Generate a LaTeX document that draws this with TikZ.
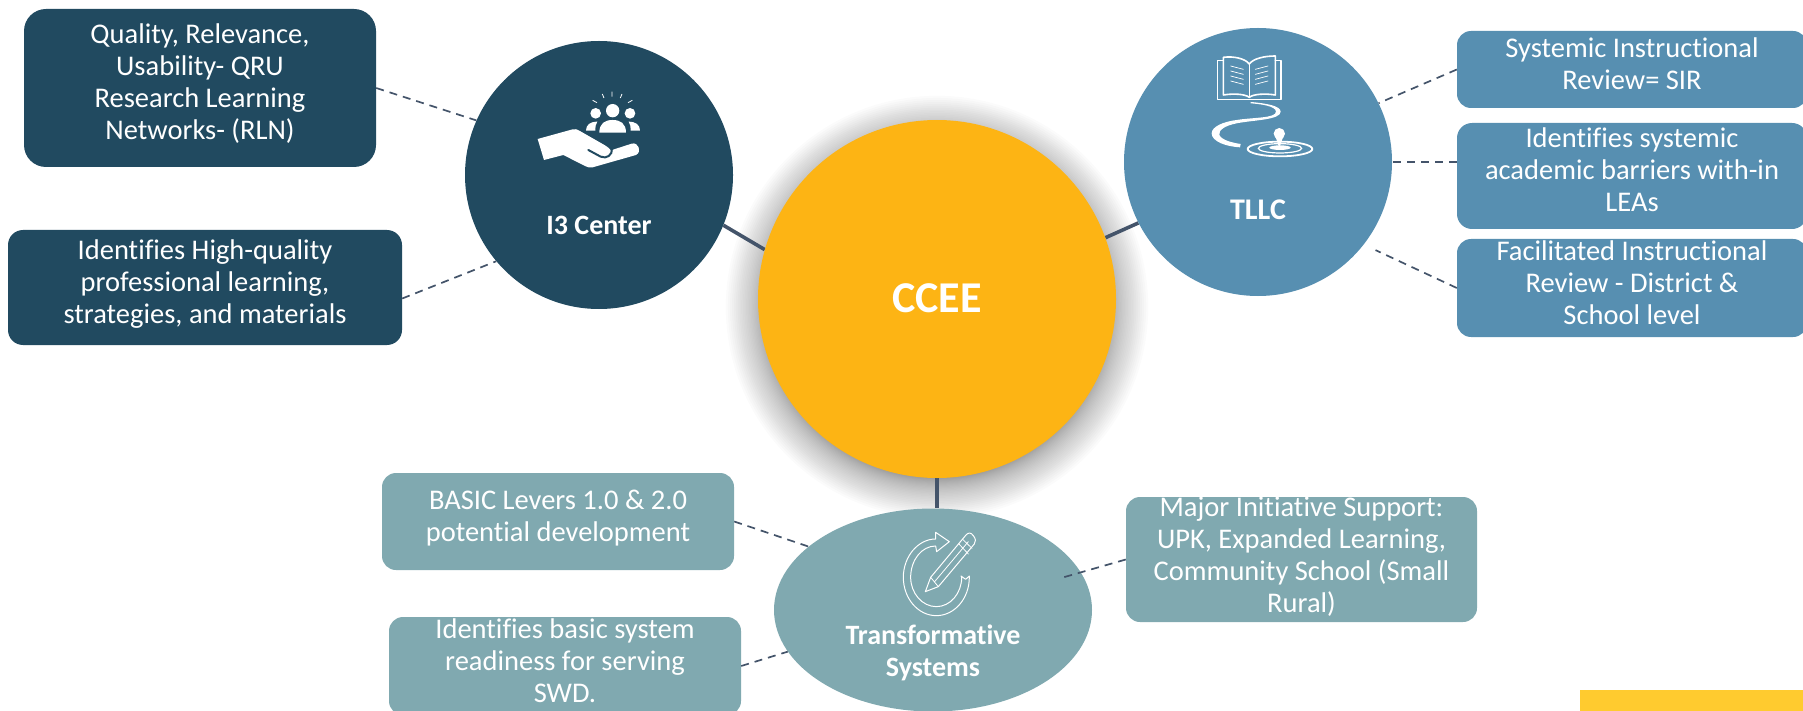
\documentclass[tikz,border=0pt]{standalone}
\usepackage{fontspec}
\setmainfont[Ligatures=NoCommon]{Carlito}
\usetikzlibrary{shapes.geometric,backgrounds,calc}
\definecolor{navy}{HTML}{214A60}
\definecolor{steel}{HTML}{578FB1}
\definecolor{teal}{HTML}{80A9B0}
\definecolor{gold}{HTML}{FDB414}
\definecolor{sun}{HTML}{FFCB2F}
\definecolor{wire}{HTML}{44546A}
\tikzset{
  boxnode/.style={rectangle,draw=none,fill=#1,inner sep=0,text=white},
  lab/.style={text=white,align=center,inner sep=0,font=\fontsize{28.5}{32}\selectfont},
  head/.style={text=white,align=center,inner sep=0,font=\fontsize{28}{32}\selectfont\bfseries},
  solidline/.style={draw=wire,line width=3.6pt},
  dashline/.style={draw=wire,line width=1.7pt,dash pattern=on 8pt off 6pt},
  ico/.style={draw=white,line width=1.2pt,line join=round,line cap=round},
}
\begin{document}
\begin{tikzpicture}[x=1pt,y=-1pt]
\useasboundingbox (0,0) rectangle (1803,711);
% hubs
\node[circle,fill=gold,minimum size=358pt,inner sep=0,text=white,font=\fontsize{44}{48}\selectfont\bfseries] (ccee) at (937,299) {\raisebox{2pt}{CCEE}};
\node[circle,fill=navy,minimum size=268pt,inner sep=0] (i3) at (599,175) {};
\node[circle,fill=steel,minimum size=268pt,inner sep=0] (tllc) at (1258,162) {};
\node[ellipse,fill=teal,minimum width=318pt,minimum height=203pt,inner sep=0] (ts) at (933,610) {};
\node[head] (i3t) at (599,225) {I3 Center};
\node[head,font=\fontsize{30}{36}\selectfont\bfseries] (tllct) at (1258,210) {TLLC};
\node[head] (tst) at (933,653) {Transformative\\Systems};
% boxes
\node[boxnode=navy,rounded corners=22pt,minimum width=352pt,minimum height=158pt,label={[lab,yshift=4pt]center:{Quality, Relevance,\\Usability- QRU\\Research Learning\\Networks- (RLN)}}] (b1) at (200,88) {};
\node[boxnode=navy,rounded corners=15pt,minimum width=394pt,minimum height=115pt,label={[lab,yshift=3pt]center:{Identifies High-quality\\professional learning,\\strategies, and materials}}] (b2) at (205,287.5) {};
\node[boxnode=steel,rounded corners=14pt,minimum width=350pt,minimum height=77pt,label={[lab,yshift=6pt]center:{Systemic Instructional\\Review= SIR}}] (r1) at (1632,69.5) {};
\node[boxnode=steel,rounded corners=15pt,minimum width=350pt,minimum height=106pt,label={[lab,yshift=6pt]center:{Identifies systemic\\academic barriers with-in\\LEAs}}] (r2) at (1632,176) {};
\node[boxnode=steel,rounded corners=14pt,minimum width=350pt,minimum height=98pt,label={[lab,yshift=5pt]center:{Facilitated Instructional\\Review - District \&\\School level}}] (r3) at (1632,288) {};
\node[boxnode=teal,rounded corners=14pt,minimum width=352pt,minimum height=97pt,label={[lab,yshift=3pt]center:{BASIC Levers 1.0 \& 2.0\\potential development}}] (b3) at (558,521.5) {};
\node[boxnode=teal,rounded corners=14pt,minimum width=351pt,minimum height=125pt,label={[lab,yshift=3pt]center:{Major Initiative Support:\\UPK, Expanded Learning,\\Community School (Small\\Rural)}}] (b4) at (1301.5,559.5) {};
\node[boxnode=teal,rounded corners=14pt,minimum width=352pt,minimum height=98pt,label={[lab,yshift=5pt]center:{Identifies basic system\\readiness for serving\\SWD.}}] (b5) at (565,666) {};
\node[rectangle,fill=sun,minimum width=223pt,minimum height=21pt,inner sep=0] (corner) at (1691.5,700.5) {};
% shadow and solid connectors
\begin{scope}[on background layer]
\foreach \i in {1,...,40}{
  \fill[black,opacity=0.016] (937,307) circle[radius=168pt+\i*\i*0.027pt];
}
\draw[solidline] (i3.-22) -- (ccee.164);
\draw[solidline] (tllc.207) -- (ccee.20);
\draw[solidline] (ccee.south) -- (ccee.south |- ts.north);
\end{scope}
% dashed connectors
\coordinate (tsin) at (1061,578);
\draw[dashline] (b1.east) -- (i3.156);
\draw[dashline] ([yshift=-11pt]b2.east) -- (i3.220);
\draw[dashline] (r1.west) -- (tllc.26);
\draw[dashline] ([yshift=14pt]r2.west) -- (tllc.east);
\draw[dashline,shorten >=13pt] (r3.west) -- (tllc.-38);
\draw[dashline] (b3.east) -- (ts.153);
\draw[dashline] (b5.east) -- (ts.196);
\draw[dashline] (b4.west) -- (tsin);
% I3 icon, drawn in the 3x crop's coordinates
\begin{scope}[shift={(440,40)},x=0.3333pt,y=-0.3333pt]
\fill[white] (293,297) -- (398,268) .. controls (405,266) and (412,268) .. (418,272) -- (495,316) .. controls (510,325) and (516,335) .. (510,332) -- (575,311) .. controls (595,305) and (607,335) .. (588,345) -- (458,382) .. controls (450,384) and (442,382) .. (435,378) -- (370,345) -- (312,360) -- cycle;
\draw[navy,line width=2pt,line cap=round] (445,330) -- (482,350) .. controls (500,358) and (518,345) .. (516,325);
\fill[white] (518,212) circle[radius=20];
\fill[white] (467,220) circle[radius=16];
\fill[white] (570,220) circle[radius=16];
\fill[white] (478,278) .. controls (478,250) and (495,240) .. (518,240) .. controls (541,240) and (558,250) .. (558,278) -- cycle;
\fill[white] (438,272) .. controls (438,255) and (450,245) .. (472,245) .. controls (465,252) and (467,262) .. (466,272) -- cycle;
\fill[white] (600,272) .. controls (600,255) and (588,245) .. (566,245) .. controls (573,252) and (571,262) .. (572,272) -- cycle;
\draw[white,line width=0.8pt] (516,155) -- (516,170) (487,162) -- (492,174) (546,162) -- (541,174) (458,181) -- (471,188) (577,181) -- (564,188);
\end{scope}
% TLLC icon
\begin{scope}[shift={(1110,20)},x=0.3333pt,y=-0.3333pt]
\draw[ico,line width=1.6pt] (340,122) -- (322,122) -- (322,238) -- (513,238) -- (513,122) -- (496,122);
\draw[ico,line width=1.6pt] (340,225) -- (340,112) .. controls (370,108) and (405,115) .. (418,132) .. controls (430,115) and (465,108) .. (496,108) -- (496,225) .. controls (465,220) and (430,222) .. (418,232) .. controls (405,222) and (370,220) .. (340,225);
\draw[ico] (418,132) -- (418,232);
\draw[ico,line width=0.7pt] (362,138) -- (400,148) (362,153) -- (400,163) (362,168) -- (400,178) (362,183) -- (400,193);
\draw[ico,line width=0.7pt] (474,138) -- (436,148) (474,153) -- (436,163) (474,168) -- (436,178) (474,183) -- (436,193);
\fill[white] (422,246) .. controls (470,250) and (512,258) .. (512,275) .. controls (512,300) and (430,300) .. (380,310) .. controls (345,317) and (325,330) .. (328,345) .. controls (335,360) and (365,368) .. (392,372) -- (390,382) .. controls (350,380) and (305,365) .. (305,340) .. controls (305,320) and (340,305) .. (380,300) .. controls (430,292) and (498,295) .. (498,275) .. controls (498,258) and (450,252) .. (422,250) -- cycle;
\fill[white] (508,341) circle[radius=17];
\fill[white] (497,352) -- (519,352) -- (510,378) -- (506,378) -- cycle;
\draw[white,line width=1.8pt] (510,387) ellipse[x radius=97,y radius=22];
\draw[white,line width=1.2pt] (510,385) ellipse[x radius=65,y radius=14];
\fill[white] (510,383) ellipse[x radius=32,y radius=7];
\end{scope}
% Transformative icon
\begin{scope}[shift={(760,470)},x=0.3333pt,y=-0.3333pt]
\draw[ico,line width=1pt] (527,187) -- (568,215) -- (530,245) -- (527,228) .. controls (485,228) and (452,270) .. (452,322) .. controls (452,370) and (487,410) .. (529,410) .. controls (571,410) and (605,370) .. (605,322) -- (603,318) -- (617,328) -- (628,318) -- (628,322) .. controls (628,385) and (584,437) .. (529,437) .. controls (474,437) and (430,385) .. (430,322) .. controls (430,260) and (474,207) .. (527,207) -- cycle;
\draw[ico,line width=1pt] (496,365) -- (512,322) -- (618,195) .. controls (625,187) and (633,187) .. (640,197) .. controls (648,207) and (648,215) .. (643,222) -- (535,350) -- cycle;
\draw[ico,line width=0.8pt] (512,322) -- (535,350) (523,336) -- (625,215) (597,222) -- (625,252) (608,208) -- (636,235);
\end{scope}
\end{tikzpicture}
\end{document}
